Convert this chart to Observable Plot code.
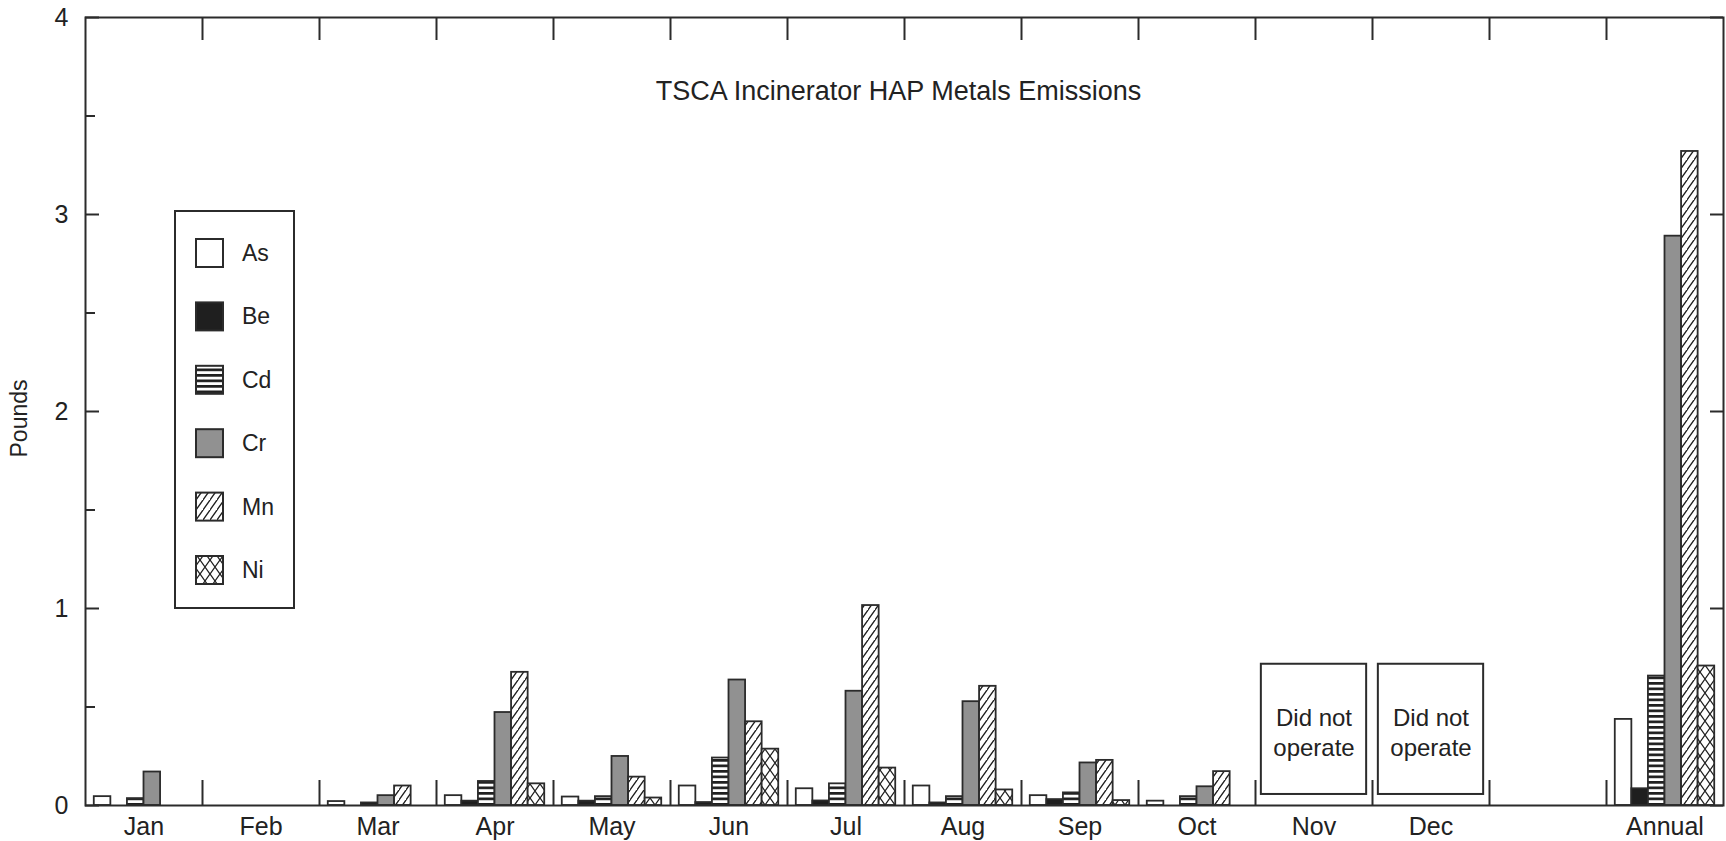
<!DOCTYPE html>
<html><head><meta charset="utf-8">
<script src="https://cdn.jsdelivr.net/npm/d3@7"></script>
<script src="https://cdn.jsdelivr.net/npm/@observablehq/plot@0.6"></script>
<style>html,body{margin:0;padding:0;background:#fff;} #chart{width:1726px;height:841px;}</style>
</head><body><div id="chart"></div>
<script>
// ---- data ----
const slots = ["Jan","Feb","Mar","Apr","May","Jun","Jul","Aug","Sep","Oct","Nov","Dec","","Annual"];
const metals = ["As","Be","Cd","Cr","Mn","Ni"];
const As = [0.045, 0, 0.020, 0.050, 0.043, 0.099, 0.085, 0.099, 0.050, 0.022, null, null, null, 0.437];
const Be = [0,     0, 0,     0.022, 0.022, 0.015, 0.023, 0.013, 0.030, 0,     null, null, null, 0.085];
const Cd = [0.035, 0, 0.013, 0.122, 0.045, 0.241, 0.110, 0.045, 0.064, 0.045, null, null, null, 0.657];
const Cr = [0.170, 0, 0.050, 0.472, 0.249, 0.637, 0.580, 0.527, 0.216, 0.095, null, null, null, 2.890];
const Mn = [0,     0, 0.099, 0.676, 0.144, 0.425, 1.015, 0.605, 0.229, 0.172, null, null, null, 3.320];
const Ni = [0,     0, 0,     0.110, 0.038, 0.286, 0.190, 0.079, 0.025, 0,     null, null, null, 0.708];
const notOperating = ["Nov", "Dec"];
const yTicks = [0, 1, 2, 3, 4];
const yMinorTicks = [0.5, 1.5, 2.5, 3.5];
const title = "TSCA Incinerator HAP Metals Emissions";
const yLabel = "Pounds";
const noteText = "Did not\noperate";

// ---- build table ----
const series = {As, Be, Cd, Cr, Mn, Ni};
const rows = [];
metals.forEach((m, j) => series[m].forEach((v, i) => { if (v > 0) rows.push({metal: m, j, i, slot: slots[i], value: v}); }));

const fills = {As: "white", Be: "#1f1f1f", Cd: "url(#pat-cd)", Cr: "#919191", Mn: "url(#pat-mn)", Ni: "url(#pat-ni)"};
const pad = 0.075, bw = (1 - 2 * pad) / metals.length;
const ink = "#2b2b2b";

const W = 1726, H = 841, mL = 85, mR = 3, mT = 17, mB = 36;
const fw = W - mL - mR, fh = H - mT - mB;

const barMarks = metals.map(m => Plot.rect(rows.filter(r => r.metal === m), {
  x1: r => r.i + pad + r.j * bw,
  x2: r => r.i + pad + (r.j + 1) * bw,
  y1: 0, y2: "value",
  fill: fills[m], stroke: ink, strokeWidth: 1.8
}));

const boundaries = d3.range(1, slots.length);

const svg = Plot.plot({
  width: W, height: H,
  marginLeft: mL, marginRight: mR, marginTop: mT, marginBottom: mB,
  x: {domain: [0, slots.length], axis: null},
  y: {domain: [0, 4], axis: null},
  style: {fontFamily: "'Liberation Sans', Arial, sans-serif", color: "#222", background: "white", overflow: "visible"},
  marks: [
    ...barMarks,
    // did-not-operate boxes
    Plot.rect(notOperating, {x1: d => slots.indexOf(d) + 0.05, x2: d => slots.indexOf(d) + 0.95, y1: 0.056, y2: 0.717, fill: "white", stroke: ink, strokeWidth: 2}),
    Plot.text(notOperating, {x: d => slots.indexOf(d) + 0.5, y: 0.375, text: () => noteText, fontSize: 24, lineHeight: 1.25, fill: "#222"}),
    // boundary ticks top & bottom
    Plot.ruleX(boundaries, {x: d => d, insetBottom: fh - 23, stroke: ink, strokeWidth: 2}),
    Plot.ruleX(boundaries, {x: d => d, insetTop: fh - 25, stroke: ink, strokeWidth: 2}),
    // y ticks
    Plot.ruleY(yTicks, {y: d => d, insetRight: fw - 14, stroke: ink, strokeWidth: 2}),
    Plot.ruleY(yMinorTicks, {y: d => d, insetRight: fw - 10, stroke: ink, strokeWidth: 2}),
    Plot.ruleY(yTicks, {y: d => d, insetLeft: fw - 13, stroke: ink, strokeWidth: 2}),
    // y tick labels
    Plot.text(yTicks, {y: d => d, text: d => String(d), frameAnchor: "left", dx: -17, textAnchor: "end", lineAnchor: "middle", fontSize: 25, fill: "#222"}),
    // x labels
    Plot.text(slots, {x: (d, i) => i + 0.5, text: d => d, frameAnchor: "bottom", dy: 21, lineAnchor: "middle", fontSize: 25, fill: "#222"}),
    // title & y label
    Plot.text([title], {frameAnchor: "top", dx: -6, dy: 74, lineAnchor: "middle", textAnchor: "middle", text: d => d, fontSize: 27, fill: "#222"}),
    Plot.text([yLabel], {frameAnchor: "left", dx: -66, dy: 7, rotate: -90, textAnchor: "middle", lineAnchor: "middle", text: d => d, fontSize: 23, fill: "#222"}),
    Plot.frame({stroke: ink, strokeWidth: 2})
  ]
});

// patterns
const s = d3.select(svg);
const defs = s.insert("defs", ":first-child");
const pc = defs.append("pattern").attr("id", "pat-cd").attr("patternUnits", "userSpaceOnUse").attr("width", 8).attr("height", 5.5);
pc.append("rect").attr("width", 8).attr("height", 5.5).attr("fill", "white");
pc.append("rect").attr("y", 0).attr("width", 8).attr("height", 2.7).attr("fill", "#1f1f1f");
const mw = 7, mh = 10;
const pm = defs.append("pattern").attr("id", "pat-mn").attr("patternUnits", "userSpaceOnUse").attr("width", mw).attr("height", mh);
pm.append("rect").attr("width", mw).attr("height", mh).attr("fill", "white");
pm.append("path").attr("d", `M${-mw},${2*mh}L${2*mw},${-mh}M${-2*mw},${2*mh}L${mw},${-mh}M0,${3*mh}L${3*mw},0`).attr("stroke", "#1f1f1f").attr("stroke-width", 1.3);
const nw = 10, nh = 14;
const pn = defs.append("pattern").attr("id", "pat-ni").attr("patternUnits", "userSpaceOnUse").attr("width", nw).attr("height", nh);
pn.append("rect").attr("width", nw).attr("height", nh).attr("fill", "white");
pn.append("path").attr("d", `M0,0L${nw},${nh}M0,${nh}L${nw},0`).attr("stroke", "#1f1f1f").attr("stroke-width", 1.3);

// legend
const lg = s.append("g").attr("font-family", "'Liberation Sans', Arial, sans-serif").attr("text-anchor", "start");
lg.append("rect").attr("x", 175).attr("y", 211).attr("width", 119).attr("height", 397).attr("fill", "white").attr("stroke", ink).attr("stroke-width", 2);
metals.forEach((m, k) => {
  const cy = 253 + k * 63.4;
  lg.append("rect").attr("x", 196).attr("y", cy - 14).attr("width", 27).attr("height", 28).attr("fill", fills[m]).attr("stroke", ink).attr("stroke-width", 2);
  lg.append("text").attr("x", 242).attr("y", cy).attr("dy", "0.35em").attr("text-anchor", "start").attr("font-size", 23).attr("fill", "#222").text(m);
});

document.getElementById("chart").appendChild(svg);
</script>
</body></html>
